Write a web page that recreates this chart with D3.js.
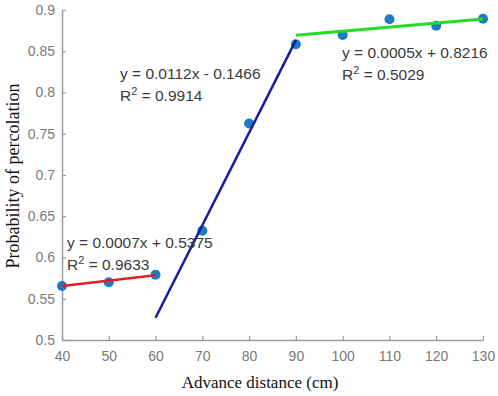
<!DOCTYPE html>
<html>
<head>
<meta charset="utf-8">
<script src="https://cdn.jsdelivr.net/npm/d3@7"></script>
<style>
  html, body { margin: 0; padding: 0; background: #fff; }
  svg { display: block; }
</style>
</head>
<body>
<script>
// ---- data ----
const distances = [40, 50, 60, 70, 80, 90, 100, 110, 120, 130];
const probabilities = [0.5655, 0.570, 0.579, 0.6325, 0.7625, 0.8585, 0.8697, 0.8887, 0.881, 0.8893];
const xTicks = [40, 50, 60, 70, 80, 90, 100, 110, 120, 130];
const yTicks = [0.5, 0.55, 0.6, 0.65, 0.7, 0.75, 0.8, 0.85, 0.9];
// trend lines: [x0, x1], [y0, y1]
const redFitX = [40, 60], redFitY = [0.5655, 0.5785];
const blueFitX = [60, 90], blueFitY = [0.527, 0.8635];
const greenFitX = [90, 130], greenFitY = [0.8695, 0.889];
const eqRed = ["y = 0.0007x + 0.5375", "0.9633"];
const eqBlue = ["y = 0.0112x - 0.1466", "0.9914"];
const eqGreen = ["y = 0.0005x + 0.8216", "0.5029"];

const W = 498, H = 396;
const svg = d3.select("body").append("svg").attr("width", W).attr("height", H);

const x = d3.scaleLinear().domain([40, 130]).range([62, 483]);
const y = d3.scaleLinear().domain([0.5, 0.9]).range([340, 10]);

const axisColor = "#9a9a9a";
const tickText = "#7a7a7a";

// x axis
const gx = svg.append("g").attr("transform", `translate(0,${y(0.5)})`)
  .call(d3.axisBottom(x).tickValues(xTicks).tickSizeInner(-4).tickSizeOuter(0).tickPadding(11).tickFormat(d3.format("d")));
// y axis
const gy = svg.append("g").attr("transform", `translate(${x(40)},0)`)
  .call(d3.axisLeft(y).tickValues(yTicks).tickSizeInner(-4).tickSizeOuter(0).tickPadding(7).tickFormat(d => d3.format("")(+d.toFixed(2))));
[gx, gy].forEach(g => {
  g.select(".domain").attr("stroke", axisColor).attr("stroke-width", 1.5);
  g.selectAll(".tick line").attr("stroke", axisColor).attr("stroke-width", 1.2);
  g.selectAll(".tick text").attr("fill", tickText)
    .style("font-family", "'Liberation Sans', Arial, sans-serif").style("font-size", "14px");
});

// axis titles
svg.append("text").attr("x", 260).attr("y", 388).attr("text-anchor", "middle")
  .style("font-family", "'Liberation Serif', 'Times New Roman', serif").style("font-size", "17px")
  .attr("fill", "#111").text("Advance distance (cm)");
svg.append("text").attr("transform", "translate(19,176) rotate(-90)").attr("text-anchor", "middle")
  .style("font-family", "'Liberation Serif', 'Times New Roman', serif").style("font-size", "18px")
  .attr("fill", "#111").text("Probability of percolation");

// points
svg.append("g").selectAll("circle").data(distances).join("circle")
  .attr("cx", (d) => x(d)).attr("cy", (d, i) => y(probabilities[i])).attr("r", 5)
  .attr("fill", "#1b7cc2");

// fit lines
const line = d3.line().x(d => x(d[0])).y(d => y(d[1]));
const fits = [
  [redFitX, redFitY, "#e51e25", 2.5],
  [blueFitX, blueFitY, "#1a1aa6", 2.5],
  [greenFitX, greenFitY, "#22dd22", 3]
];
fits.forEach(([fx, fy, c, w]) => {
  svg.append("path").attr("d", line(fx.map((v, i) => [v, fy[i]])))
    .attr("fill", "none").attr("stroke", c).attr("stroke-width", w);
});

// equations
function eq(lines, px, py) {
  const g = svg.append("g").style("font-family", "'Liberation Sans', Arial, sans-serif")
    .style("font-size", "15.5px").attr("fill", "#3a3a3a");
  g.append("text").attr("x", px).attr("y", py).text(lines[0]);
  const t = g.append("text").attr("x", px).attr("y", py + 22);
  t.append("tspan").text("R");
  t.append("tspan").attr("dy", -6).style("font-size", "11px").text("2");
  t.append("tspan").attr("dy", 6).text(" = " + lines[1]);
}
eq(eqBlue, 120, 79);
eq(eqGreen, 342, 58);
eq(eqRed, 67, 248);
</script>
</body>
</html>
